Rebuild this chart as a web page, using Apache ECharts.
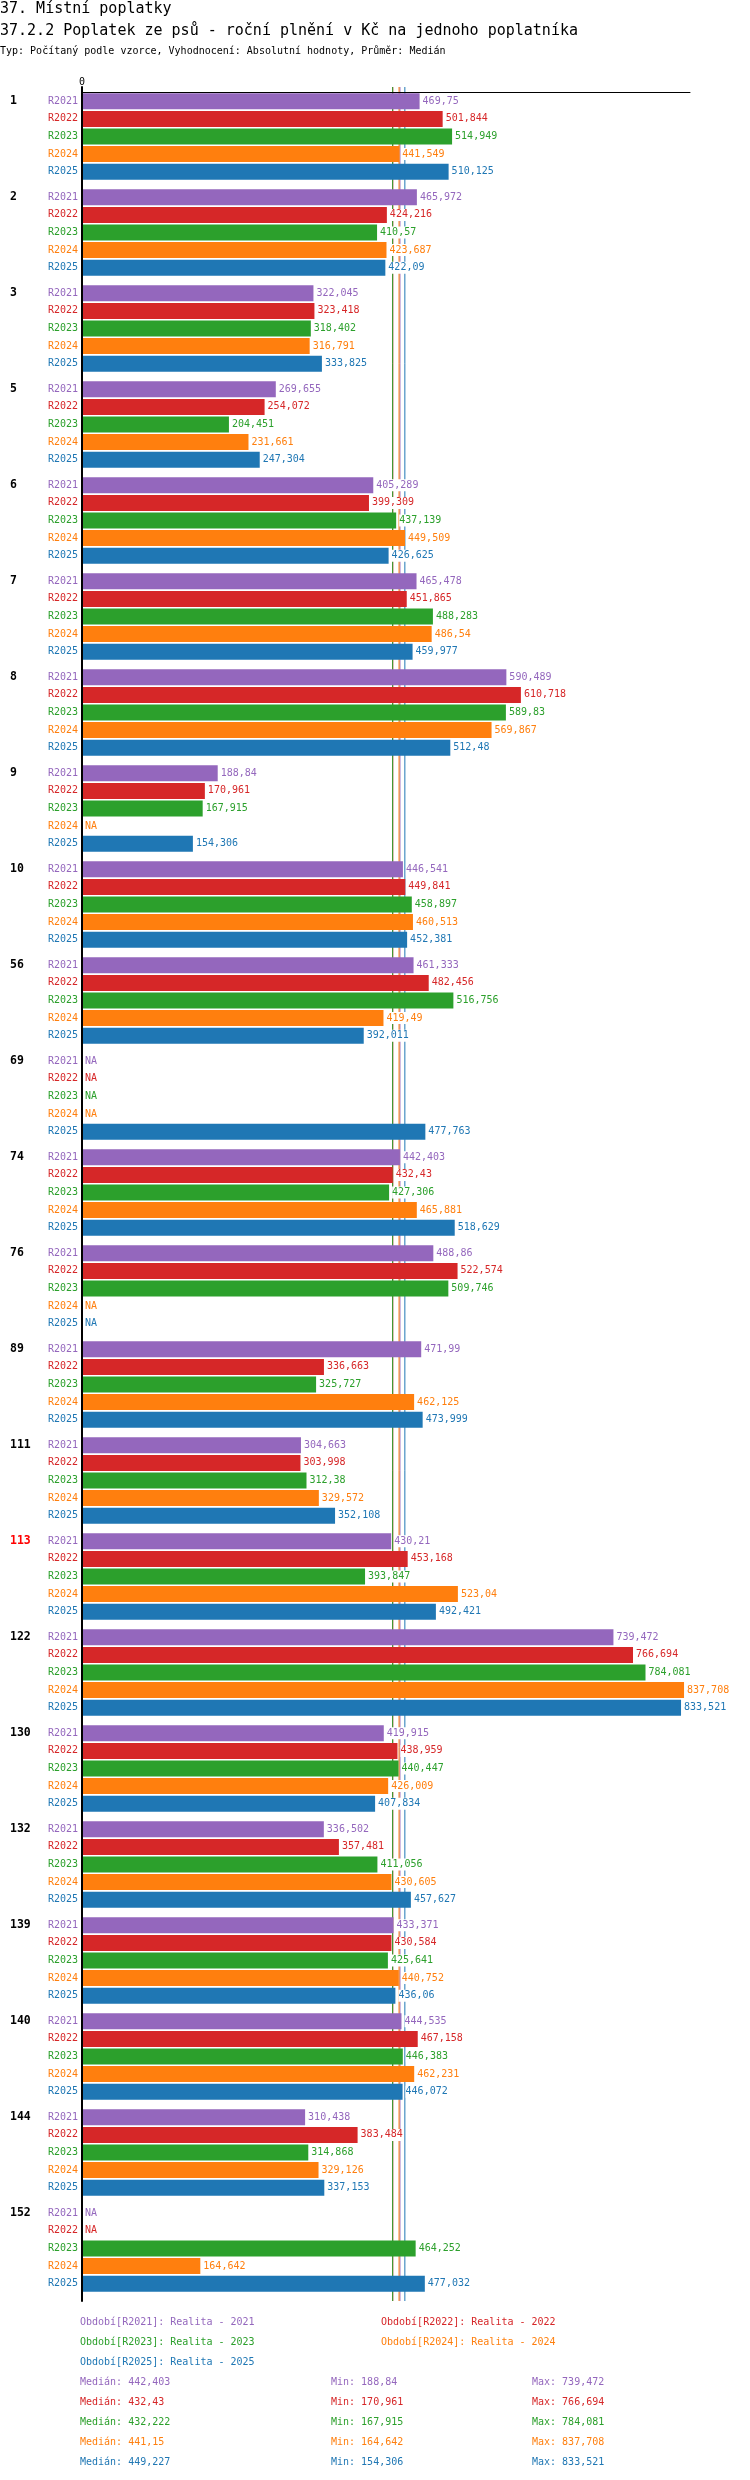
<!DOCTYPE html>
<html>
<head>
<meta charset="utf-8">
<script src="https://cdn.jsdelivr.net/npm/echarts@6/dist/echarts.min.js"></script>
<style>
html,body{margin:0;padding:0;background:#fff;}
#c{width:750px;height:2480px;}
</style>
</head>
<body>
<div id="c"></div>
<script>
// ---- DATA ----
const titleMain = '37. Místní poplatky';
const titleSub = '37.2.2 Poplatek ze psů - roční plnění v Kč na jednoho poplatníka';
const titleType = 'Typ: Počítaný podle vzorce, Vyhodnocení: Absolutní hodnoty, Průměr: Medián';

const categories = ['1','2','3','5','6','7','8','9','10','56','69','74','76','89','111','113','122','130','132','139','140','144','152'];
const highlighted = ['113'];
const seriesKeys = ['R2021','R2022','R2023','R2024','R2025'];
const periodNames = ['Realita - 2021','Realita - 2022','Realita - 2023','Realita - 2024','Realita - 2025'];

const r2021 = [469.75, 465.972, 322.045, 269.655, 405.289, 465.478, 590.489, 188.84, 446.541, 461.333, null, 442.403, 488.86, 471.99, 304.663, 430.21, 739.472, 419.915, 336.502, 433.371, 444.535, 310.438, null];
const r2022 = [501.844, 424.216, 323.418, 254.072, 399.309, 451.865, 610.718, 170.961, 449.841, 482.456, null, 432.43, 522.574, 336.663, 303.998, 453.168, 766.694, 438.959, 357.481, 430.584, 467.158, 383.484, null];
const r2023 = [514.949, 410.57, 318.402, 204.451, 437.139, 488.283, 589.83, 167.915, 458.897, 516.756, null, 427.306, 509.746, 325.727, 312.38, 393.847, 784.081, 440.447, 411.056, 425.641, 446.383, 314.868, 464.252];
const r2024 = [441.549, 423.687, 316.791, 231.661, 449.509, 486.54, 569.867, null, 460.513, 419.49, null, 465.881, null, 462.125, 329.572, 523.04, 837.708, 426.009, 430.605, 440.752, 462.231, 329.126, 164.642];
const r2025 = [510.125, 422.09, 333.825, 247.304, 426.625, 459.977, 512.48, 154.306, 452.381, 392.011, 477.763, 518.629, null, 473.999, 352.108, 492.421, 833.521, 407.834, 457.627, 436.06, 446.072, 337.153, 477.032];

const medians = [442.403, 432.43, 432.222, 441.15, 449.227];
const mins = [188.84, 170.961, 167.915, 164.642, 154.306];
const maxs = [739.472, 766.694, 784.081, 837.708, 833.521];

const xMax = 846;

// ---- STYLE ----
const colors = ['#9467bd', '#d62728', '#2ca02c', '#ff7f0e', '#1f77b4'];
const FONT = "'DejaVu Sans Mono', monospace";
const fmt = v => String(v).replace('.', ',');
const values = [r2021, r2022, r2023, r2024, r2025];
const BAR_GAP = '10%';
const CAT_GAP = '10%';

// bars with value labels (grid 0, yAxis 0)
const valueSeries = values.map((arr, i) => ({
  type: 'bar',
  name: seriesKeys[i],
  xAxisIndex: 0,
  yAxisIndex: 0,
  zlevel: 1,
  z: 2,
  silent: true,
  barGap: BAR_GAP,
  barCategoryGap: CAT_GAP,
  itemStyle: { color: colors[i] },
  data: arr.map(v => (v == null ? 0 : v)),
  label: {
    show: true,
    position: 'right',
    distance: 3,
    color: colors[i],
    fontFamily: FONT,
    fontSize: 10,
    backgroundColor: '#fff',
    padding: [1, 0],
    formatter: p => (arr[p.dataIndex] == null ? 'NA' : fmt(arr[p.dataIndex]))
  }
}));

// invisible twin bars carrying the period labels on the left (grid 0, yAxis 1)
const labelSeries = values.map((arr, i) => ({
  type: 'bar',
  name: seriesKeys[i] + ' ',
  xAxisIndex: 0,
  yAxisIndex: 1,
  zlevel: 1,
  z: 1,
  silent: true,
  barGap: BAR_GAP,
  barCategoryGap: CAT_GAP,
  itemStyle: { color: 'rgba(0,0,0,0)' },
  data: arr.map(v => (v == null ? 0 : v)),
  label: {
    show: true,
    position: 'left',
    distance: 4,
    color: colors[i],
    fontFamily: FONT,
    fontSize: 10,
    formatter: seriesKeys[i]
  }
}));

// median lines (grid 1, behind the bars)
const medianSeries = medians.map((m, i) => ({
  type: 'line',
  name: 'median ' + seriesKeys[i],
  xAxisIndex: 1,
  yAxisIndex: 2,
  zlevel: 0,
  z: 1,
  silent: true,
  symbol: 'none',
  lineStyle: { color: colors[i], width: 1 },
  data: [[m, 0], [m, 1]]
}));

const graphics = [];
seriesKeys.forEach((k, i) => {
  graphics.push({
    type: 'text',
    x: i % 2 === 0 ? 80 : 381,
    y: 2322 + 20 * Math.floor(i / 2),
    silent: true,
    style: { text: 'Období[' + k + ']: ' + periodNames[i], fill: colors[i], font: '10px ' + FONT, verticalAlign: 'middle' }
  });
});
seriesKeys.forEach((k, i) => {
  const y = 2382 + 20 * i;
  graphics.push({ type: 'text', x: 80, y, silent: true,
    style: { text: 'Medián: ' + fmt(medians[i]), fill: colors[i], font: '10px ' + FONT, verticalAlign: 'middle' } });
  graphics.push({ type: 'text', x: 331, y, silent: true,
    style: { text: 'Min: ' + fmt(mins[i]), fill: colors[i], font: '10px ' + FONT, verticalAlign: 'middle' } });
  graphics.push({ type: 'text', x: 532, y, silent: true,
    style: { text: 'Max: ' + fmt(maxs[i]), fill: colors[i], font: '10px ' + FONT, verticalAlign: 'middle' } });
});

const chart = echarts.init(document.getElementById('c'), null, { renderer: 'canvas' });
chart.setOption({
  animation: false,
  backgroundColor: '#fff',
  title: [
    { text: titleMain, left: 0, top: 2, padding: 0, textStyle: { fontFamily: FONT, fontSize: 15, fontWeight: 'normal', color: '#000' } },
    { text: titleSub, left: 0, top: 24, padding: 0, textStyle: { fontFamily: FONT, fontSize: 15, fontWeight: 'normal', color: '#000' } },
    { text: titleType, left: 0, top: 46, padding: 0, textStyle: { fontFamily: FONT, fontSize: 10, fontWeight: 'normal', color: '#000' } }
  ],
  grid: [
    { left: 82, right: 60, top: 88.5, height: 2208, containLabel: false },
    { left: 82, right: 60, top: 87, height: 2214, containLabel: false }
  ],
  xAxis: [
    {
      type: 'value',
      gridIndex: 0,
      min: 0,
      max: xMax,
      interval: xMax,
      position: 'top',
      offset: -3.5,
      zlevel: 2,
      axisLine: { show: true, onZero: false, lineStyle: { color: '#000', width: 1 } },
      axisTick: { show: false },
      splitLine: { show: false },
      axisLabel: { show: true, margin: 5, fontFamily: FONT, fontSize: 10, color: '#000',
        formatter: v => (v === 0 ? '0' : '') }
    },
    {
      type: 'value',
      gridIndex: 1,
      min: 0,
      max: xMax,
      show: false
    }
  ],
  yAxis: [
    {
      type: 'category',
      gridIndex: 0,
      data: categories,
      inverse: true,
      position: 'left',
      zlevel: 2,
      axisLine: { show: false },
      axisTick: { show: false },
      splitLine: { show: false },
      axisLabel: {
        interval: 0,
        align: 'left',
        margin: 72,
        fontFamily: FONT,
        fontWeight: 'bold',
        fontSize: 11.5,
        lineHeight: 17.6,
        color: v => (highlighted.includes(v) ? '#ff0000' : '#000'),
        formatter: v => v + '\n\n\n\n'
      }
    },
    {
      type: 'category',
      gridIndex: 0,
      data: categories,
      inverse: true,
      show: false
    },
    {
      type: 'value',
      gridIndex: 1,
      min: 0,
      max: 1,
      position: 'left',
      zlevel: 2,
      axisLine: { show: true, onZero: false, lineStyle: { color: '#000', width: 2 } },
      axisTick: { show: false },
      axisLabel: { show: false },
      splitLine: { show: false }
    }
  ],
  series: medianSeries.concat(labelSeries, valueSeries),
  graphic: graphics
});
</script>
</body>
</html>
